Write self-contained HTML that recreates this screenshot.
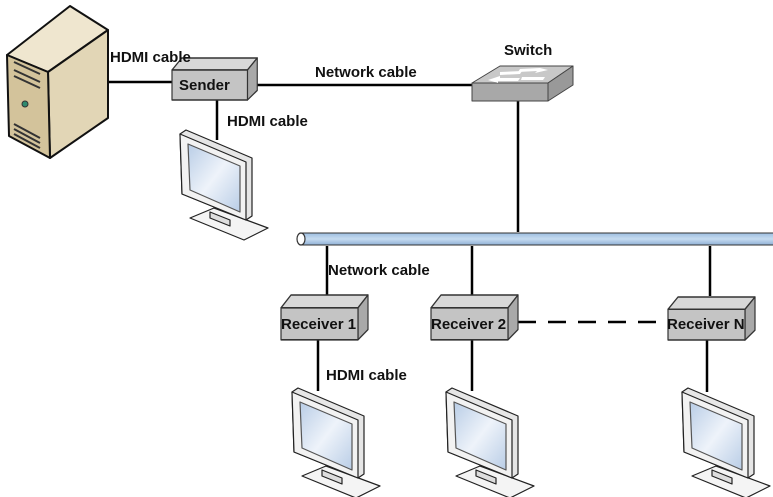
<!DOCTYPE html>
<html><head><meta charset="utf-8"><style>
html,body{margin:0;padding:0;background:#fff;}
svg{display:block;}
text{font-family:"Liberation Sans",sans-serif;font-weight:bold;font-size:15px;fill:#111;}
</style></head><body>
<svg width="773" height="497" viewBox="0 0 773 497" xmlns="http://www.w3.org/2000/svg">
<defs>
<linearGradient id="scr" x1="0" y1="0" x2="1" y2="1">
<stop offset="0" stop-color="#b9cde6"/><stop offset="0.5" stop-color="#eef3fa"/><stop offset="1" stop-color="#b9cde6"/>
</linearGradient>
<linearGradient id="bus" x1="0" y1="0" x2="0" y2="1">
<stop offset="0" stop-color="#9dbde0"/><stop offset="0.5" stop-color="#c6dbf0"/><stop offset="1" stop-color="#8fb0d6"/>
</linearGradient>
<g id="mon" stroke="#222" stroke-width="1.2" stroke-linejoin="round">
<polygon points="12,90 36,80 90,100 66,112" fill="#f4f4f4"/>
<polygon points="32,84 52,92 52,98 32,90" fill="#ddd"/>
<polygon points="2,6 8,2 74,30 74,88 68,92 4,66" fill="#e6e6e6"/>
<polygon points="2,6 68,34 68,92 4,66" fill="#f2f2f2"/>
<polygon points="10,16 62,38 62,84 12,62" fill="url(#scr)" stroke="#555"/>
</g>
<g id="box" stroke="#333" stroke-width="1.2" stroke-linejoin="round">
<polygon points="0,10 10,0 87,0 77,10" fill="#d8d8d8"/>
<polygon points="77,10 87,0 87,27 77,35" fill="#a9a9a9"/>
<rect x="0" y="10" width="77" height="25" fill="#c4c4c4"/>
</g>
</defs>

<g stroke="#000" stroke-width="2.5" fill="none">
<line x1="108" y1="82" x2="172" y2="82"/>
<line x1="252" y1="85" x2="474" y2="85"/>
<line x1="217" y1="100" x2="217" y2="140"/>
<line x1="518" y1="94" x2="518" y2="232"/>
<line x1="327" y1="246" x2="327" y2="296"/>
<line x1="472" y1="246" x2="472" y2="296"/>
<line x1="710" y1="246" x2="710" y2="296"/>
<line x1="318" y1="340" x2="318" y2="391"/>
<line x1="472" y1="340" x2="472" y2="391"/>
<line x1="707" y1="340" x2="707" y2="392"/>
<line x1="518" y1="322" x2="668" y2="322" stroke-dasharray="18,12"/>
</g>

<g stroke="#111" stroke-width="2" stroke-linejoin="round">
<polygon points="7,55 70,6 108,30 48,72" fill="#efe6cf"/>
<polygon points="48,72 108,30 108,118 50,158" fill="#e2d6b6"/>
<polygon points="7,55 48,72 50,158 9,136" fill="#d3c39b"/>
</g>
<g stroke="#333" stroke-width="2" fill="none">
<line x1="14" y1="62" x2="40" y2="74"/>
<line x1="14" y1="70" x2="40" y2="82"/>
<line x1="14" y1="76" x2="40" y2="88"/>
<line x1="14" y1="124" x2="40" y2="138"/>
<line x1="14" y1="129" x2="40" y2="143"/>
<line x1="14" y1="134" x2="40" y2="148"/>
</g>
<circle cx="25" cy="104" r="3" fill="#2e8a6e" stroke="#333"/>

<use href="#box" transform="translate(172,58) scale(0.98,1.2)"/>
<text x="179" y="90">Sender</text>

<g stroke="#444" stroke-width="1" stroke-linejoin="round">
<polygon points="472,83 500,66 573,66 548,83" fill="#c8c8c8"/>
<polygon points="548,83 573,66 573,85 548,101" fill="#999"/>
<rect x="472" y="83" width="76" height="18" fill="#a8a8a8"/>
</g>
<g fill="#fff">
<polygon points="488,80 500,76 500,78 520,78 518,81 498,81 498,83"/>
<polygon points="535,73 548,70 540,68 520,69 518,72 537,71"/>
<polygon points="500,72 522,71 520,74 500,75"/>
<polygon points="522,77 545,77 543,80 521,80"/>
</g>
<text x="504" y="55">Switch</text>

<rect x="300" y="233" width="475" height="12" fill="url(#bus)" stroke="#333" stroke-width="1"/>
<ellipse cx="301" cy="239" rx="4" ry="6" fill="#fff" stroke="#333" stroke-width="1.2"/>

<use href="#box" transform="translate(281,295) scale(1,1.28)"/>
<use href="#box" transform="translate(431,295) scale(1,1.28)"/>
<use href="#box" transform="translate(668,297) scale(1,1.23)"/>
<text x="281" y="329">Receiver 1</text>
<text x="431" y="329">Receiver 2</text>
<text x="667" y="329">Receiver N</text>

<use href="#mon" transform="translate(178,128)"/>
<use href="#mon" transform="translate(290,386)"/>
<use href="#mon" transform="translate(444,386)"/>
<use href="#mon" transform="translate(680,386)"/>

<text x="110" y="62">HDMI cable</text>
<text x="227" y="126">HDMI cable</text>
<text x="315" y="77">Network cable</text>
<text x="328" y="275">Network cable</text>
<text x="326" y="380">HDMI cable</text>
</svg>
</body></html>
